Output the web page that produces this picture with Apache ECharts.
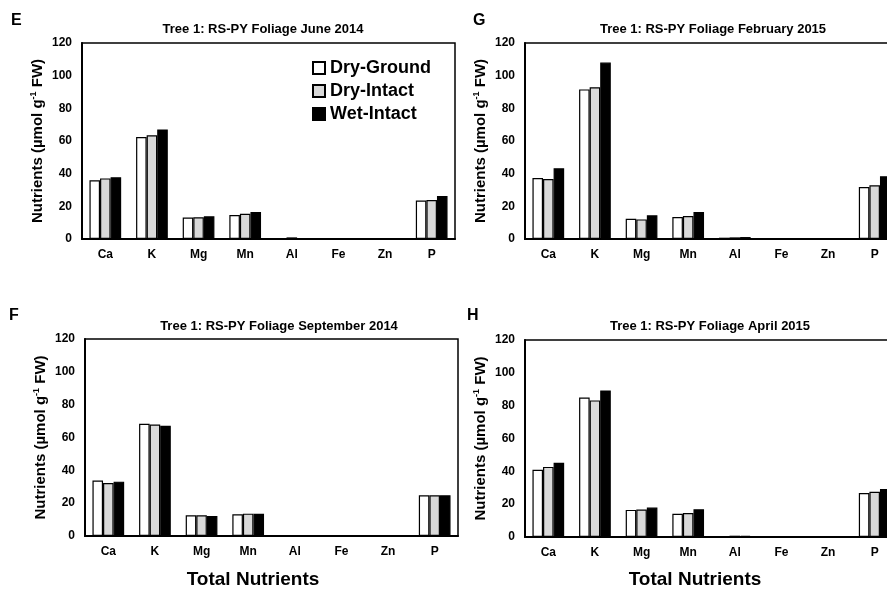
<!DOCTYPE html>
<html>
<head>
<meta charset="utf-8">
<script src="https://cdn.jsdelivr.net/npm/echarts@6/dist/echarts.min.js"></script>
<style>
  html, body { margin: 0; padding: 0; background: #fff; }
  #chart { width: 887px; height: 589px; }
</style>
</head>
<body>
<div id="chart"></div>
<script>
const categories = ['Ca', 'K', 'Mg', 'Mn', 'Al', 'Fe', 'Zn', 'P'];
const seriesNames = ['Dry-Ground', 'Dry-Intact', 'Wet-Intact'];
const yTicks = { min: 0, max: 120, interval: 20 };

// E: June 2014
const juneDryGround = [35.9, 62.4, 13.1, 14.7, 0.6, 0.3, 0.3, 23.5];
const juneDryIntact = [37.1, 63.5, 13.3, 15.5, 1.0, 0.3, 0.3, 23.9];
const juneWetIntact = [37.8, 67.1, 13.9, 16.5, 0.6, 0.3, 0.3, 26.3];
// G: February 2015
const febDryGround = [37.3, 91.6, 12.4, 13.5, 0.8, 0.3, 0.3, 31.8];
const febDryIntact = [36.7, 92.9, 12.0, 14.1, 1.0, 0.3, 0.3, 32.9];
const febWetIntact = [43.3, 108.0, 14.5, 16.5, 1.2, 0.3, 0.3, 38.4];
// F: September 2014
const sepDryGround = [33.8, 68.3, 12.6, 13.2, 0.3, 0.1, 0.1, 24.8];
const sepDryIntact = [32.3, 67.9, 12.6, 13.6, 0.4, 0.1, 0.1, 24.8];
const sepWetIntact = [33.1, 67.1, 12.2, 13.5, 0.3, 0.1, 0.1, 24.8];
// H: April 2015
const aprDryGround = [40.9, 85.0, 16.5, 14.2, 0.6, 0.1, 0.2, 26.8];
const aprDryIntact = [42.7, 83.2, 16.7, 14.6, 0.8, 0.1, 0.3, 27.5];
const aprWetIntact = [45.2, 89.3, 17.9, 16.9, 0.7, 0.1, 0.3, 29.3];

const panels = [
  { letter: 'E', title: 'Tree 1: RS-PY Foliage June 2014', data: [juneDryGround, juneDryIntact, juneWetIntact] },
  { letter: 'G', title: 'Tree 1: RS-PY Foliage February 2015', data: [febDryGround, febDryIntact, febWetIntact] },
  { letter: 'F', title: 'Tree 1: RS-PY Foliage September 2014', data: [sepDryGround, sepDryIntact, sepWetIntact] },
  { letter: 'H', title: 'Tree 1: RS-PY Foliage April 2015', data: [aprDryGround, aprDryIntact, aprWetIntact] },
];

const fillColors = ['#ffffff', '#d9d9d9', '#000000'];
const font = 'Arial, "Liberation Sans", Helvetica, sans-serif';

// plot area boxes (right-hand panels run past the canvas edge, as in the source figure)
const grids = [
  { left: 82, top: 43, width: 373, height: 196 },
  { left: 525, top: 43, width: 373, height: 196 },
  { left: 85, top: 339, width: 373, height: 197 },
  { left: 525, top: 340, width: 373, height: 197 },
];
const titlePos = [[258, 18], [708, 18], [274, 315], [705, 315]];
const letterPos = [[11, 13], [473, 13], [9, 308], [467, 308]];

const chart = echarts.init(document.getElementById('chart'));

const option = {
  backgroundColor: '#fff',
  animation: false,
  textStyle: { fontFamily: font },
  title: panels.map((p, i) => ({
    text: p.title,
    left: titlePos[i][0],
    top: titlePos[i][1],
    textAlign: 'center',
    textStyle: { fontSize: 13, fontWeight: 'bold', color: '#000', fontFamily: font },
  })),
  legend: {
    data: seriesNames,
    orient: 'vertical',
    left: 307,
    top: 54,
    itemWidth: 12,
    itemHeight: 12,
    itemGap: 5,
    icon: 'rect',
    textStyle: { fontSize: 18, fontWeight: 'bold', color: '#000', lineHeight: 18, fontFamily: font },
  },
  grid: grids.map((g) => ({
    ...g,
    outerBoundsMode: 'none',
    show: true,
    borderColor: '#000',
    borderWidth: 1.5,
    backgroundColor: 'transparent',
  })),
  xAxis: grids.map((g, i) => ({
    type: 'category',
    gridIndex: i,
    data: categories,
    axisLine: { lineStyle: { color: '#000', width: 2 } },
    axisTick: { show: false },
    axisLabel: { color: '#000', fontWeight: 'bold', fontSize: 12, margin: 10, fontFamily: font },
  })),
  yAxis: grids.map((g, i) => ({
    type: 'value',
    gridIndex: i,
    min: yTicks.min,
    max: yTicks.max,
    interval: yTicks.interval,
    name: 'Nutrients (µmol g{sup|-1} FW)',
    nameLocation: 'middle',
    nameRotate: 90,
    nameGap: 35,
    nameTextStyle: {
      color: '#000',
      fontWeight: 'bold',
      fontSize: 15,
      lineHeight: 18,
      fontFamily: font,
      rich: {
        sup: { fontSize: 9, fontWeight: 'bold', color: '#000', verticalAlign: 'top', lineHeight: 18, fontFamily: font },
      },
    },
    axisLine: { show: true, lineStyle: { color: '#000', width: 2 } },
    axisTick: { show: false },
    splitLine: { show: false },
    axisLabel: { color: '#000', fontWeight: 'bold', fontSize: 12, margin: 10, fontFamily: font },
  })),
  series: panels.flatMap((p, i) =>
    p.data.map((vals, k) => ({
      name: seriesNames[k],
      type: 'bar',
      xAxisIndex: i,
      yAxisIndex: i,
      data: vals,
      barGap: '0%',
      barCategoryGap: '32%',
      itemStyle: { color: fillColors[k], borderColor: '#000', borderWidth: 1.2 },
      emphasis: { disabled: true },
    }))
  ),
  graphic: [
    ...panels.map((p, i) => ({
      type: 'text',
      left: letterPos[i][0],
      top: letterPos[i][1],
      style: { text: p.letter, fontSize: 16, fontWeight: 'bold', fill: '#000', fontFamily: font },
    })),
    {
      type: 'text',
      x: 253,
      y: 580,
      style: { text: 'Total Nutrients', fontSize: 19, fontWeight: 'bold', fill: '#000', align: 'center', verticalAlign: 'middle', fontFamily: font },
    },
    {
      type: 'text',
      x: 695,
      y: 580,
      style: { text: 'Total Nutrients', fontSize: 19, fontWeight: 'bold', fill: '#000', align: 'center', verticalAlign: 'middle', fontFamily: font },
    },
  ],
};

chart.setOption(option);
</script>
</body>
</html>
